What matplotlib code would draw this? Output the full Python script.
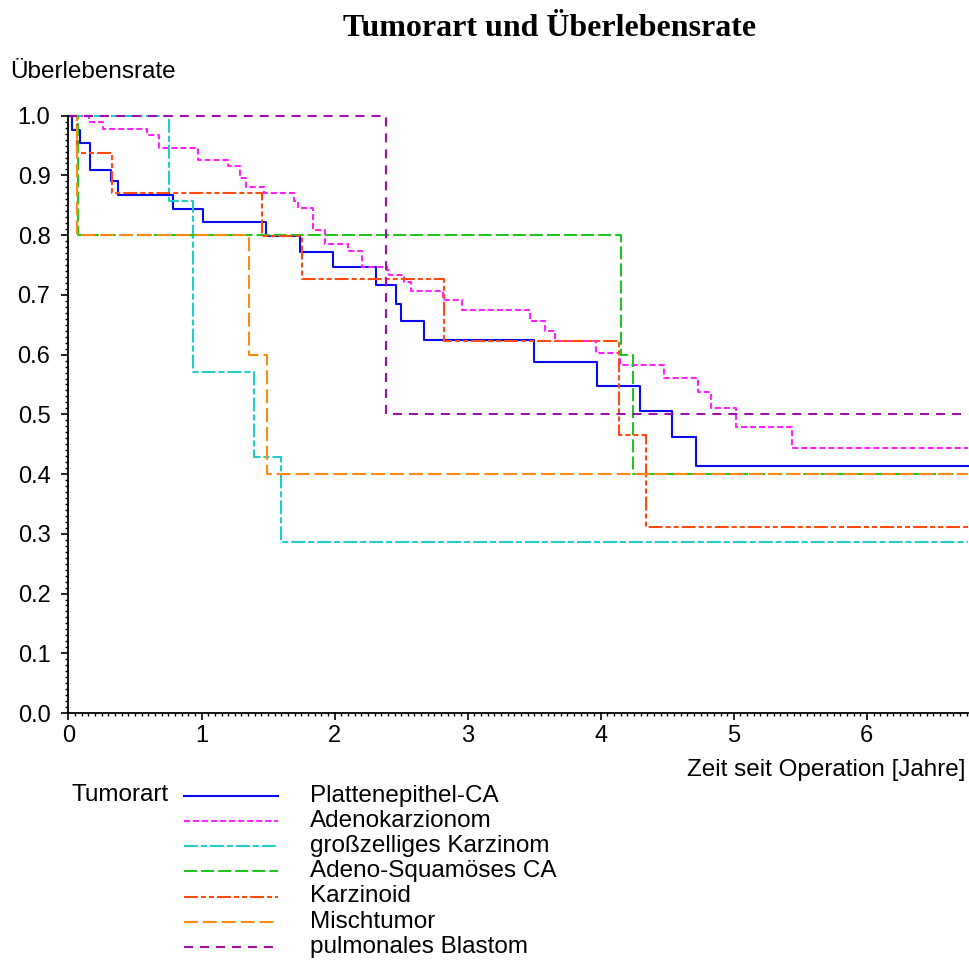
import matplotlib
matplotlib.use("Agg")
import matplotlib.pyplot as plt
from matplotlib.lines import Line2D
from matplotlib.ticker import MultipleLocator

# ---------------- DATA ----------------
# step points (time in years, survival after the step)
platten_t = [0, 0.026, 0.086, 0.162, 0.317, 0.374, 0.788, 1.009, 1.485, 1.741, 1.986,
             2.312, 2.462, 2.50, 2.668, 3.50, 3.971, 4.297, 4.535, 4.716]
platten_s = [1.0, 0.976, 0.955, 0.909, 0.890, 0.867, 0.844, 0.822, 0.799, 0.772, 0.746,
             0.717, 0.685, 0.656, 0.624, 0.588, 0.547, 0.506, 0.462, 0.414]

adeno_t = [0, 0.154, 0.257, 0.588, 0.683, 0.976, 1.202, 1.289, 1.335, 1.47, 1.698, 1.725,
           1.838, 1.929, 2.099, 2.205, 2.393, 2.405, 2.525, 2.573, 2.814, 2.961, 3.465,
           3.583, 3.653, 3.966, 4.141, 4.472, 4.728, 4.831, 5.019, 5.437]
adeno_s = [1.0, 0.990, 0.978, 0.968, 0.946, 0.926, 0.915, 0.895, 0.880, 0.870, 0.858, 0.846,
           0.809, 0.786, 0.773, 0.746, 0.742, 0.734, 0.722, 0.707, 0.691, 0.675, 0.657,
           0.640, 0.622, 0.603, 0.583, 0.561, 0.538, 0.511, 0.478, 0.443]

gross_t = [0, 0.756, 0.936, 1.397, 1.598]
gross_s = [1.0, 0.857, 0.571, 0.429, 0.286]

squam_t = [0, 0.074, 4.154, 4.239]
squam_s = [1.0, 0.8, 0.6, 0.4]

karz_t = [0, 0.062, 0.325, 1.453, 1.753, 2.823, 4.134, 4.342]
karz_s = [1.0, 0.938, 0.871, 0.799, 0.727, 0.623, 0.466, 0.311]

misch_t = [0, 0.062, 1.359, 1.49]
misch_s = [1.0, 0.8, 0.6, 0.4]

blastom_t = [0, 2.387]
blastom_s = [1.0, 0.5]

labels = ["Plattenepithel-CA", "Adenokarzionom", "großzelliges Karzinom",
          "Adeno-Squamöses CA", "Karzinoid", "Mischtumor", "pulmonales Blastom"]
X_MAX = 6.76

# ---------------- STYLE ----------------
plt.rcParams['font.family'] = ['Liberation Sans', 'DejaVu Sans']
plt.rcParams['lines.scale_dashes'] = False

colors = ["#0a0aee", "#ff22ff", "#22cccc", "#22c422", "#ff4a10", "#ff8a10", "#a010a8"]
styles = ["-",
          (0, (4.3, 2.2)),
          (0, (10, 2.2, 4.3, 2.2)),
          (0, (9.4, 2.9)),
          (0, (10, 2.2, 3.6, 2.2, 3.6, 2.2)),
          (0, (10, 3.6)),
          (0, (6.5, 5))]

series = [(platten_t, platten_s), (adeno_t, adeno_s), (gross_t, gross_s),
          (squam_t, squam_s), (karz_t, karz_s), (misch_t, misch_s),
          (blastom_t, blastom_s)]

W, H = 970, 964
fig = plt.figure(figsize=(W / 100, H / 100), dpi=100)
ax = fig.add_axes([68.5 / W, 1 - 713 / H, (968 - 68.5) / W, (713 - 115.7) / H])

for (t, s), c, ls in zip(series, colors, styles):
    ax.step(list(t) + [X_MAX], list(s) + [s[-1]], where='post',
            color=c, linestyle=ls, lw=1.5, clip_on=False)

ax.set_xlim(0, X_MAX)
ax.set_ylim(0, 1.0)
for side in ["top", "right"]:
    ax.spines[side].set_visible(False)
for side in ["left", "bottom"]:
    ax.spines[side].set_linewidth(1.3)

ax.xaxis.set_major_locator(MultipleLocator(1))
ax.xaxis.set_minor_locator(MultipleLocator(0.05))
ax.yaxis.set_major_locator(MultipleLocator(0.1))
ax.yaxis.set_minor_locator(MultipleLocator(0.01))
ax.yaxis.set_major_formatter(lambda v, p: f"{v:.1f}")
ax.tick_params(which='major', length=5, width=1.2, labelsize=17)
ax.tick_params(which='minor', length=2.5, width=1.0)
ax.tick_params(axis='y', which='major', pad=8)
ax.tick_params(axis='x', which='major', pad=4)

# ---------------- TEXT ----------------
fig.text(550 / W, 1 - 28 / H, "Tumorart und Überlebensrate", ha='center', va='center',
         fontsize=23, fontweight='bold', family=['Liberation Serif', 'DejaVu Serif'])
fig.text(10 / W, 1 - 72 / H, "Überlebensrate", ha='left', va='center', fontsize=17.5)
fig.text(966 / W, 1 - 770 / H, "Zeit seit Operation [Jahre]", ha='right', va='center',
         fontsize=17.5)

# ---------------- LEGEND ----------------
fig.text(72 / W, 1 - 795 / H, "Tumorart", ha='left', va='center', fontsize=17.5)
for i, (lab, c, ls) in enumerate(zip(labels, colors, styles)):
    y = 1 - (795.7 + 25.2 * i) / H
    fig.add_artist(Line2D([184 / W, 278 / W], [y, y], color=c, linestyle=ls, lw=1.5,
                          transform=fig.transFigure))
    fig.text(310 / W, y, lab, ha='left', va='center', fontsize=17.5)

fig.savefig("out.png", dpi=100)
